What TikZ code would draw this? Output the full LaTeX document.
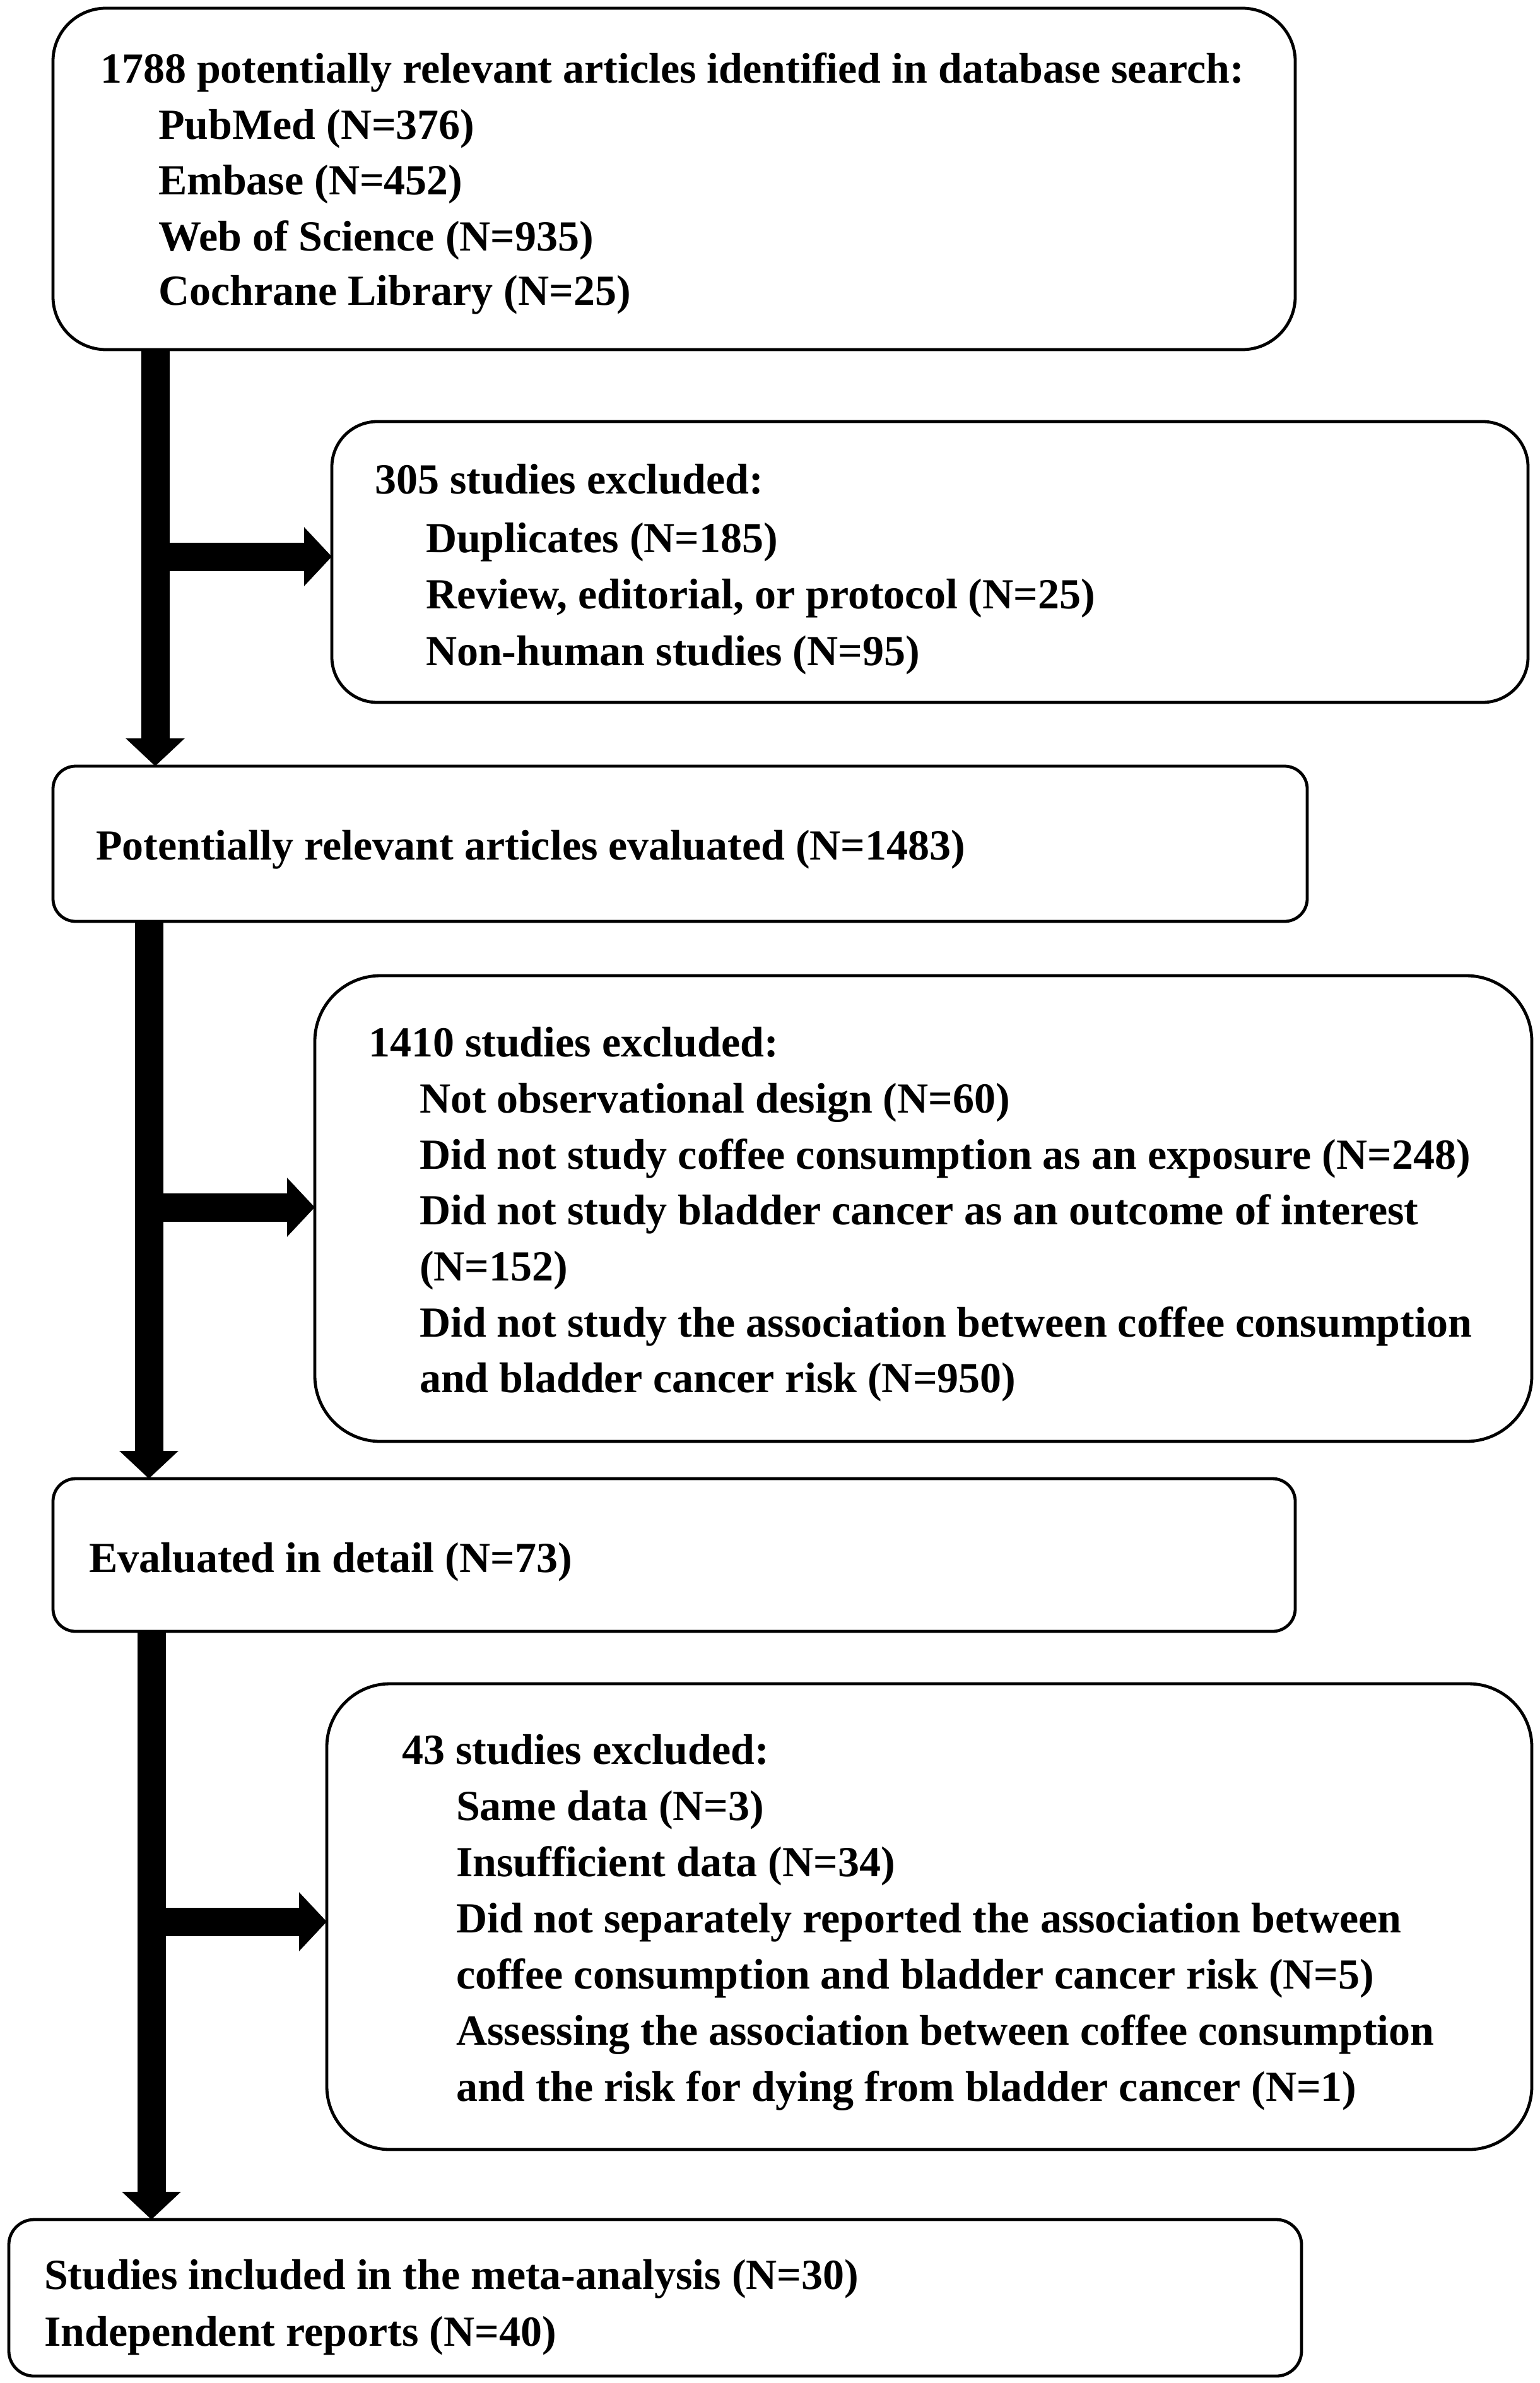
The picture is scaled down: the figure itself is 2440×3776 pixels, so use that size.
\documentclass[tikz,border=0pt]{standalone}
\usepackage{fontspec}
\setmainfont{Liberation Serif}
\usetikzlibrary{arrows.meta}
\tikzset{
  box/.style={draw=black, line width=1.2pt, fill=white, inner sep=0pt, outer sep=0pt},
  txt/.style={anchor=base west, inner sep=0pt, outer sep=0pt, font=\fontsize{17pt}{22pt}\selectfont\bfseries},
  flow/.style={line width=11.25pt, line cap=butt, -{Triangle[width=22.75pt,length=11pt]}},
}
\begin{document}
\begin{tikzpicture}[x=0.25pt,y=-0.25pt]
\useasboundingbox[fill=white] (0,0) rectangle (2440,3776);
% boxes
\node[box, rounded corners=21pt, minimum width=492.25pt, minimum height=135.25pt] (b1) at (1068.5,283.5) {};
\node[box, rounded corners=18pt, minimum width=474pt, minimum height=111.25pt] (b2) at (1474,890.5) {};
\node[box, rounded corners=9pt, minimum width=497pt, minimum height=61.5pt] (b3) at (1078,1337) {};
\node[box, rounded corners=26pt, minimum width=482.25pt, minimum height=184.5pt] (b4) at (1463.5,1915) {};
\node[box, rounded corners=9pt, minimum width=492.25pt, minimum height=60.5pt] (b5) at (1068.5,2464) {};
\node[box, rounded corners=25pt, minimum width=477.5pt, minimum height=184.5pt] (b6) at (1473,3037) {};
\node[box, rounded corners=10pt, minimum width=512.25pt, minimum height=62pt] (b7) at (1038.5,3641) {};
% connector anchors
\coordinate (s1) at (246,554);
\coordinate (j1) at (246,882);
\coordinate (s2) at (236,1460);
\coordinate (j2) at (236,1913);
\coordinate (s3) at (240,2585);
\coordinate (j3) at (240,3045);
% connectors
\draw[flow] (s1 |- b1.south) -- (s1 |- b3.north);
\draw[flow] (j1) -- (j1 -| b2.west);
\draw[flow] (s2 |- b3.south) -- (s2 |- b5.north);
\draw[flow] (j2) -- (j2 -| b4.west);
\draw[flow] (s3 |- b5.south) -- (s3 |- b7.north);
\draw[flow] (j3) -- (j3 -| b6.west);
% texts
\node[txt] (t1a) at (159,132) {1788 potentially relevant articles identified in database search:};
\node[txt] (t1b) at (251,221) {PubMed (N=376)};
\node[txt] (t1c) at (251,309) {Embase (N=452)};
\node[txt] (t1d) at (251,398) {Web of Science (N=935)};
\node[txt] (t1e) at (251,484) {Cochrane Library (N=25)};
\node[txt] (t2a) at (594,783) {305 studies excluded:};
\node[txt] (t2b) at (675,875) {Duplicates (N=185)};
\node[txt] (t2c) at (675,964) {Review, editorial, or protocol (N=25)};
\node[txt] (t2d) at (675,1054) {Non-human studies (N=95)};
\node[txt] (t3a) at (152,1362) {Potentially relevant articles evaluated (N=1483)};
\node[txt] (t4a) at (584,1674) {1410 studies excluded:};
\node[txt] (t4b) at (665,1763) {Not observational design (N=60)};
\node[txt] (t4c) at (665,1852) {Did not study coffee consumption as an exposure (N=248)};
\node[txt] (t4d) at (665,1940) {Did not study bladder cancer as an outcome of interest};
\node[txt] (t4e) at (665,2029) {(N=152)};
\node[txt] (t4f) at (665,2118) {Did not study the association between coffee consumption};
\node[txt] (t4g) at (665,2206) {and bladder cancer risk (N=950)};
\node[txt] (t5a) at (141,2491) {Evaluated in detail (N=73)};
\node[txt] (t6a) at (637,2795) {43 studies excluded:};
\node[txt] (t6b) at (723,2884) {Same data (N=3)};
\node[txt] (t6c) at (723,2973) {Insufficient data (N=34)};
\node[txt] (t6d) at (723,3062) {Did not separately reported the association between};
\node[txt] (t6e) at (723,3151) {coffee consumption and bladder cancer risk (N=5)};
\node[txt] (t6f) at (723,3240) {Assessing the association between coffee consumption};
\node[txt] (t6g) at (723,3329) {and the risk for dying from bladder cancer (N=1)};
\node[txt] (t7a) at (70,3627) {Studies included in the meta-analysis (N=30)};
\node[txt] (t7b) at (70,3717) {Independent reports (N=40)};
\end{tikzpicture}
\end{document}
